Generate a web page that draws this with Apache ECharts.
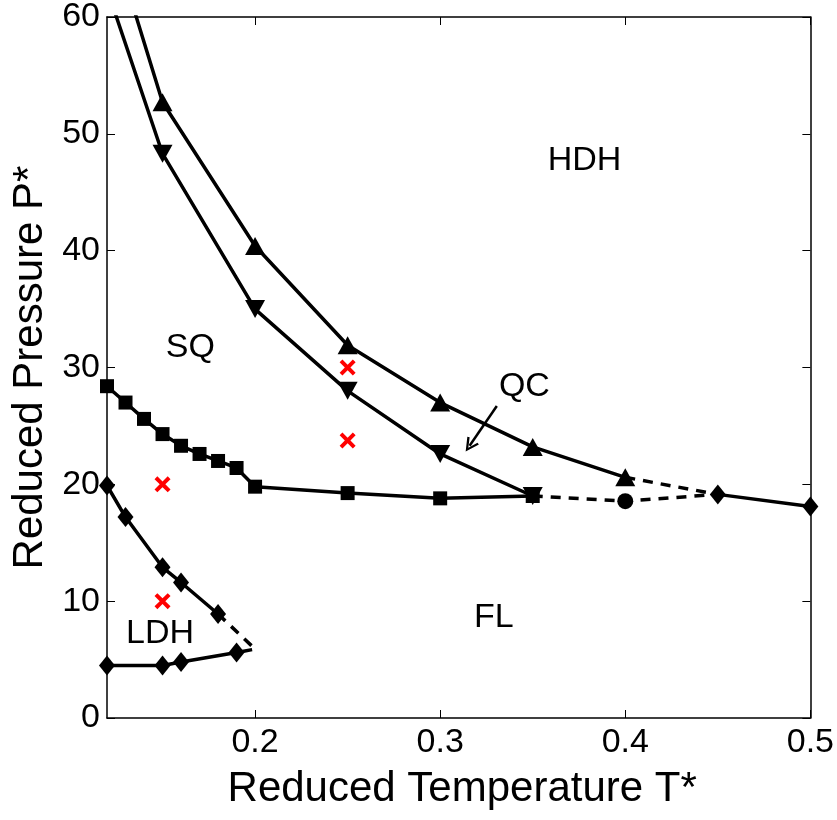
<!DOCTYPE html>
<html><head><meta charset="utf-8">
<script src="https://cdn.jsdelivr.net/npm/echarts@6/dist/echarts.min.js"></script>
<style>html,body{margin:0;padding:0;background:#fff}#c{width:837px;height:820px}</style>
</head><body><div id="c"></div>
<script>
// Data
var xTicks = [0.2, 0.3, 0.4, 0.5];
var upTri = [[0.13, 63.0], [0.15, 52.7], [0.2, 40.4], [0.25, 31.9], [0.3, 27.0], [0.35, 23.2], [0.4, 20.6]];
var downTri = [[0.12, 62.4], [0.15, 48.3], [0.2, 35.0], [0.25, 28.0], [0.3, 22.6], [0.35, 19.0]];
var squares = [[0.12, 28.4], [0.13, 27.0], [0.14, 25.6], [0.15, 24.3], [0.16, 23.3], [0.17, 22.6], [0.18, 22.0], [0.19, 21.4], [0.2, 19.8], [0.25, 19.25], [0.3, 18.8], [0.35, 19.0]];
var ldhUpper = [[0.12, 19.9], [0.13, 17.2], [0.15, 12.9], [0.16, 11.6], [0.18, 8.9]];
var ldhLower = [[0.12, 4.5], [0.15, 4.5], [0.16, 4.8], [0.19, 5.6]];
var ldhDashed = [[0.18, 8.9], [0.2, 5.9], [0.19, 5.6]];
var flDiamonds = [[0.45, 19.14], [0.5, 18.1]];
var critPoint = [[0.4, 18.56]];
var dashLow = [[0.35, 19.0], [0.4, 18.56], [0.45, 19.14]];
var dashHigh = [[0.4, 20.6], [0.45, 19.14]];
var simPoints = [[0.15, 20], [0.15, 10], [0.25, 30], [0.25, 23.75]];
var regionLabels = [[0.378, 47.7, 'HDH'], [0.165, 31.7, 'SQ'], [0.3455, 28.4, 'QC'], [0.329, 8.6, 'FL'], [0.1487, 7.25, 'LDH']];
var qcArrow = [[0.3306, 26.7], [0.3159, 23.3]];

var FONT = 'Liberation Sans';
var LW = 3.5;
var xPath = 'path://M0,3.5 L3.5,0 L10,6.5 L16.5,0 L20,3.5 L13.5,10 L20,16.5 L16.5,20 L10,13.5 L3.5,20 L0,16.5 L6.5,10 Z';
var chevron = 'path://M0,10 L5,0 L10,10 L8.4,10.6 L5,3.6 L1.6,10.6 Z';

function solid(data, symbol, size, rotate) {
  return {type: 'line', data: data, symbol: symbol, symbolSize: size, symbolRotate: rotate || 0,
    showSymbol: true, clip: true, z: 3,
    lineStyle: {color: '#000', width: LW}, itemStyle: {color: '#000', borderWidth: 0, opacity: 1}};
}
function dashed(data) {
  return {type: 'line', data: data, symbol: 'none', clip: true, z: 2,
    lineStyle: {color: '#000', width: LW, type: [10, 8]}};
}

var axisCommon = {
  axisLine: {show: true, onZero: false, lineStyle: {color: '#000', width: 1.5}},
  axisTick: {show: true, inside: true, length: 8, lineStyle: {color: '#000', width: 1}},
  splitLine: {show: false}
};

var chart = echarts.init(document.getElementById('c'), null, {renderer: 'canvas'});
chart.setOption({
  animation: false,
  backgroundColor: '#fff',
  textStyle: {fontFamily: FONT},
  grid: {left: 107, right: 25, top: 16, bottom: 102, containLabel: false},
  xAxis: [
    Object.assign({}, axisCommon, {
      type: 'value', min: 0.12, max: 0.5, position: 'bottom',
      name: 'Reduced Temperature T*', nameLocation: 'middle', nameGap: 50,
      nameTextStyle: {fontSize: 42, color: '#000', fontFamily: FONT, padding: [0, 0, 0, 7]},
      axisTick: Object.assign({}, axisCommon.axisTick, {customValues: xTicks}),
      axisLabel: {customValues: xTicks, fontSize: 34, color: '#000', margin: 8, fontFamily: FONT,
        formatter: function (v) { return v.toFixed(1); }}
    }),
    Object.assign({}, axisCommon, {
      type: 'value', min: 0.12, max: 0.5, position: 'top',
      axisTick: Object.assign({}, axisCommon.axisTick, {customValues: xTicks}),
      axisLabel: {show: false}
    })
  ],
  yAxis: [
    Object.assign({}, axisCommon, {
      type: 'value', min: 0, max: 60, interval: 10, position: 'left',
      name: 'Reduced Pressure P*', nameLocation: 'middle', nameGap: 52, nameRotate: 90,
      nameTextStyle: {fontSize: 42, color: '#000', fontFamily: FONT},
      axisLabel: {fontSize: 34, color: '#000', margin: 7, fontFamily: FONT}
    }),
    Object.assign({}, axisCommon, {
      type: 'value', min: 0, max: 60, interval: 10, position: 'right',
      axisLabel: {show: false}
    })
  ],
  series: [
    dashed(dashLow),
    dashed(dashHigh),
    dashed(ldhDashed),
    solid(upTri, 'triangle', [20, 18]),
    solid(downTri, 'triangle', [20, 18], 180),
    solid(squares, 'rect', 14),
    solid(ldhUpper, 'diamond', [16, 20]),
    solid(ldhLower, 'diamond', [16, 20]),
    solid(flDiamonds, 'diamond', [16, 20]),
    {type: 'scatter', data: critPoint, symbol: 'circle', symbolSize: 16, z: 4,
      itemStyle: {color: '#000', opacity: 1}},
    {type: 'scatter', data: simPoints, symbol: xPath, symbolSize: 16, z: 4,
      itemStyle: {color: '#ff0000', opacity: 1}},
    {type: 'lines', coordinateSystem: 'cartesian2d', z: 4,
      symbol: ['none', chevron], symbolSize: 14,
      lineStyle: {color: '#000', width: 2.5, opacity: 1, curveness: 0},
      data: [{coords: qcArrow}]},
    {type: 'scatter', z: 5, symbolSize: 2, itemStyle: {color: 'rgba(0,0,0,0)', opacity: 1},
      data: regionLabels.map(function (r) { return {value: [r[0], r[1]], name: r[2]}; }),
      labelLayout: {hideOverlap: false},
      label: {show: true, position: 'inside', formatter: '{b}', fontSize: 34, color: '#000',
        opacity: 1, textBorderWidth: 0, fontFamily: FONT}}
  ]
});
</script></body></html>
